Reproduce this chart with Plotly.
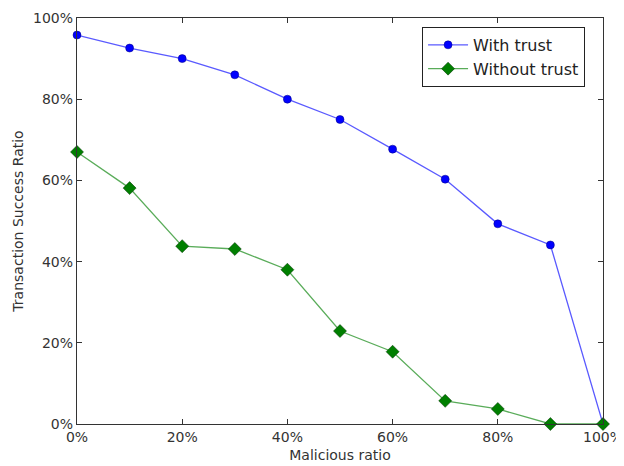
import plotly.graph_objects as go

malicious_ratio = [0, 10, 20, 30, 40, 50, 60, 70, 80, 90, 100]
with_trust = [95.8, 92.6, 90.0, 86.0, 80.0, 75.0, 67.7, 60.3, 49.3, 44.1, 0.0]
without_trust = [67.0, 58.1, 43.8, 43.1, 38.0, 22.9, 17.8, 5.7, 3.7, 0.0, 0.0]
tick_vals = [0, 20, 40, 60, 80, 100]
tick_text = ["0%", "20%", "40%", "60%", "80%", "100%"]

fig = go.Figure()
fig.add_trace(go.Scatter(
    x=malicious_ratio, y=with_trust, mode="lines+markers", name="With trust",
    line=dict(color="rgba(0,0,255,0.65)", width=1.3),
    marker=dict(symbol="circle", size=8, color="#0000ff",
                line=dict(color="#000080", width=0.5)),
    cliponaxis=False,
))
fig.add_trace(go.Scatter(
    x=malicious_ratio, y=without_trust, mode="lines+markers", name="Without trust",
    line=dict(color="rgba(0,128,0,0.65)", width=1.3),
    marker=dict(symbol="diamond", size=10, color="#007f00",
                line=dict(color="#003000", width=0.5)),
    cliponaxis=False,
))

axis_common = dict(
    showgrid=False, zeroline=False, showline=True, linecolor="#333333", linewidth=1.3,
    mirror="ticks", ticks="inside", ticklen=5, tickcolor="#333333", tickwidth=1,
    tickfont=dict(family="DejaVu Sans", size=14, color="#333333"),
    tickvals=tick_vals, ticktext=tick_text, automargin=False,
)
fig.update_xaxes(range=[0, 100], title=dict(text="Malicious ratio", standoff=6,
                 font=dict(family="DejaVu Sans", size=14, color="#333333")), **axis_common)
fig.update_yaxes(range=[0, 100], title=dict(text="Transaction Success Ratio", standoff=6,
                 font=dict(family="DejaVu Sans", size=14, color="#333333")), **axis_common)

fig.update_layout(
    width=616, height=458,
    margin=dict(l=69, r=21, t=10, b=42),
    plot_bgcolor="white", paper_bgcolor="white",
    showlegend=True,
    legend=dict(x=0.656, y=0.978, xanchor="left", yanchor="top",
                bordercolor="#222222", borderwidth=1, bgcolor="white",
                font=dict(family="DejaVu Sans", size=16, color="#222222"),
                itemwidth=40),
)

fig.write_html("out.html")
